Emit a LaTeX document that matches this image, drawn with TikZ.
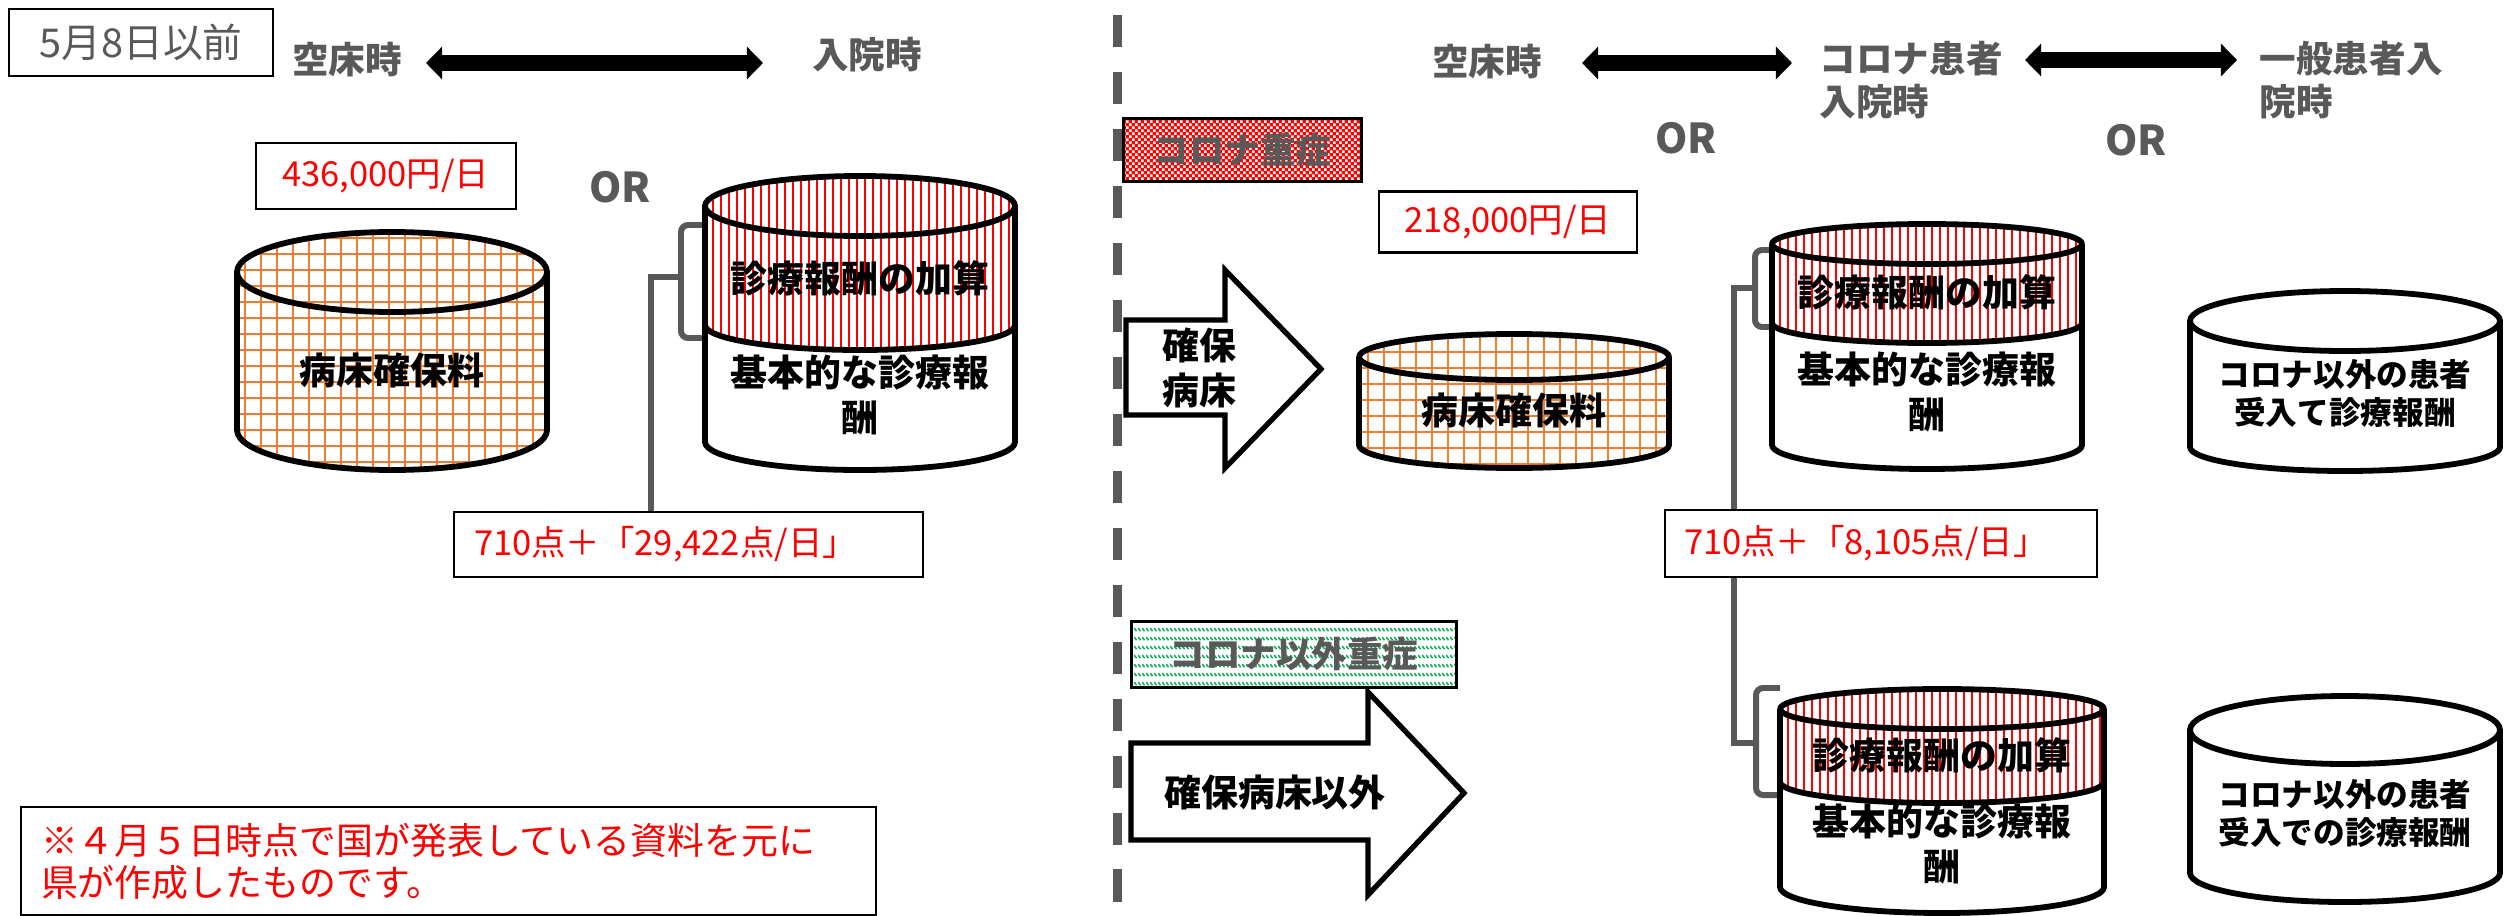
\documentclass[tikz,border=0pt]{standalone}
\usepackage{fontspec}
\setmainfont{Noto Sans CJK JP}
\usetikzlibrary{arrows.meta,patterns.meta}
\definecolor{tgray}{HTML}{595959}
\definecolor{gorange}{HTML}{ED7D31}
\definecolor{hgreen}{HTML}{00B050}

\tikzdeclarepattern{name=wcheck,type=uncolored,
  bounding box={(0pt,0pt) and (1.7pt,1.7pt)},tile size={(1.7pt,1.7pt)},
  code={\fill (0.05pt,0.05pt) rectangle (0.75pt,0.75pt); \fill (0.9pt,0.9pt) rectangle (1.6pt,1.6pt);}}
\tikzdeclarepattern{name=gdash,type=uncolored,
  bounding box={(0pt,0pt) and (1.14pt,2.56pt)},tile size={(1.14pt,2.56pt)},
  code={\draw[line width=0.5pt] (0.1pt,2.45pt) -- (0.9pt,1.5pt);}}

% silhouette clip + interior code + outline
\newcommand\cylone[7]{%
  \begin{scope}
    \clip ({#1-#2},#3) -- ({#1-#2},#4) arc[start angle=180,end angle=360,x radius={#2*0.01cm},y radius={#6*0.01cm}] -- ({#1+#2},#3) arc[start angle=0,end angle=180,x radius={#2*0.01cm},y radius={#5*0.01cm}] -- cycle;
    \fill[white] ({#1-#2-10},{#3-#5-10}) rectangle ({#1+#2+10},{#4+#6+10});
    #7
  \end{scope}
  \draw[cylline] ({#1-#2},#3) -- ({#1-#2},#4) arc[start angle=180,end angle=360,x radius={#2*0.01cm},y radius={#6*0.01cm}] -- ({#1+#2},#3);
  \draw[cylline] (#1,#3) ellipse[x radius={#2*0.01cm},y radius={#5*0.01cm}];
}
% two-tone: cx rx yt ydiv yb ryt rydiv ryb
\newcommand\cyltwo[8]{%
  \fill[white] ({#1-#2},#3) -- ({#1-#2},#5) arc[start angle=180,end angle=360,x radius={#2*0.01cm},y radius={#8*0.01cm}] -- ({#1+#2},#3) arc[start angle=0,end angle=180,x radius={#2*0.01cm},y radius={#6*0.01cm}] -- cycle;
  \begin{scope}
    \clip ({#1-#2},#3) -- ({#1-#2},#4) arc[start angle=180,end angle=360,x radius={#2*0.01cm},y radius={#7*0.01cm}] -- ({#1+#2},#3) arc[start angle=0,end angle=180,x radius={#2*0.01cm},y radius={#6*0.01cm}] -- cycle;
    \foreach \xx in {0,8,...,330} \draw[redline] ({#1-#2+\xx},{#3-#6-10}) -- ({#1-#2+\xx},{#4+#7+10});
  \end{scope}
  \draw[cylline] ({#1-#2},#3) -- ({#1-#2},#5) arc[start angle=180,end angle=360,x radius={#2*0.01cm},y radius={#8*0.01cm}] -- ({#1+#2},#3);
  \draw[cylline] (#1,#3) ellipse[x radius={#2*0.01cm},y radius={#6*0.01cm}];
  \draw[cylline] ({#1-#2},#4) arc[start angle=180,end angle=360,x radius={#2*0.01cm},y radius={#7*0.01cm}];
}

\tikzset{
  hdr/.style={text=tgray, font=\bfseries\fontsize{10.4pt}{12.2pt}\selectfont, inner sep=0pt},
  ortxt/.style={text=tgray, font=\bfseries\fontsize{11.7pt}{14pt}\selectfont, inner sep=0pt},
  blk/.style={text=black, font=\bfseries\fontsize{10.5pt}{12.8pt}\selectfont, inner sep=0pt, align=center},
  blksm/.style={text=black, font=\bfseries\fontsize{9pt}{10.8pt}\selectfont, inner sep=0pt, align=center},
  redbox/.style={draw=black, line width=0.6pt, text=red, font=\fontsize{9.8pt}{12pt}\selectfont},
  datebox/.style={draw=black, line width=0.6pt, text=tgray, font=\fontsize{11.3pt}{13pt}\selectfont},
  tagred/.style={draw=black, line width=0.8pt, preaction={fill=red}, pattern={wcheck}, pattern color=white, text=tgray, font=\bfseries\fontsize{10.1pt}{12pt}\selectfont},
  taggreen/.style={draw=black, line width=0.8pt, pattern={gdash}, pattern color=hgreen, text=tgray, font=\bfseries\fontsize{10.1pt}{12pt}\selectfont},
  notebox/.style={draw=black, line width=0.6pt, text=red, font=\fontsize{10.5pt}{12pt}\selectfont, align=left},
  cylline/.style={draw=black, line width=1.65pt, line join=round},
  gridline/.style={draw=gorange, line width=0.6pt},
  redline/.style={draw=red, line width=0.57pt},
  dbl/.style={{Triangle[length=4.6pt,width=9.1pt]}-{Triangle[length=4.6pt,width=9.1pt]}, line width=4.8pt, draw=black},
  sepline/.style={draw=tgray, line width=2.56pt, dash pattern=on 9.1pt off 7.1pt, dash phase=11.95pt},
  brk/.style={draw=tgray, line width=1.7pt, rounded corners=2pt},
  conn/.style={draw=tgray, line width=1.7pt},
  barrow/.style={draw=black, fill=white, line width=1.5pt, line join=miter}
}

\begin{document}
\begin{tikzpicture}[x=0.01cm,y=-0.01cm]
\useasboundingbox (0,0) rectangle (2509,915);

% separator
\coordinate (septop) at (1117,0);
\coordinate (sepbot) at (1117,915);
\draw[sepline] (septop) -- (sepbot);

% ---------- left part ----------
\node[datebox, minimum width=2.64cm, minimum height=0.67cm, anchor=north west] (date) at (8,8) {5月8日以前};
\node[hdr] (kuL) at (347,60) {空床時};
\node[hdr] (nyL) at (867,55) {入院時};
\coordinate (aL1) at (426,63);
\coordinate (aL2) at (763,63);
\draw[dbl] (aL1) -- (aL2);

\node[redbox, minimum width=2.59cm, minimum height=0.66cm] (pL) at (386,176) {436,000円/日};
\node[ortxt] (orL) at (620,187) {OR};

\cylone{392}{155}{272}{430}{40}{40}{\foreach \xx in {245,261,...,545} \draw[gridline] (\xx,220) -- (\xx,480); \foreach \yy in {238,254,...,478} \draw[gridline] (230,\yy) -- (560,\yy);}
\node[blk] (tA) at (392,370) {病床確保料};

\coordinate (nB) at (681,277);
\coordinate (jB) at (651,277);
\draw[brk] (706,225) -- (681,225) -- (681,338) -- (706,338);
\cyltwo{860}{155}{206}{325}{442}{30}{25}{28}
\node[blk] (tB1) at (860,278) {診療報酬の加算};
\node[blk] (tB2) at (860,395) {基本的な診療報\\酬};

\node[redbox, minimum width=4.69cm, minimum height=0.65cm, anchor=north west, text width=4.29cm, inner xsep=0.2cm, align=left] (ptL) at (453,511) {710点＋「29,422点/日」};
\draw[conn] (nB) -- (jB) -- (jB |- ptL.north);

\node[notebox, minimum width=8.54cm, minimum height=1.08cm, anchor=north west, text width=8.14cm, inner xsep=0.2cm] (note) at (20,806) {※４月５日時点で国が発表している資料を元に\\県が作成したものです。};

% ---------- right part ----------
\node[hdr] (kuR) at (1487,62) {空床時};
\node[hdr, align=left, anchor=west] (coR) at (1819,80) {コロナ患者\\入院時};
\node[hdr, align=left, anchor=west] (ipR) at (2259,80) {一般患者入\\院時};
\coordinate (aR1) at (1582,63);
\coordinate (aR2) at (1792,63);
\draw[dbl] (aR1) -- (aR2);
\coordinate (aR3) at (2025,60);
\coordinate (aR4) at (2237,60);
\draw[dbl] (aR3) -- (aR4);
\node[ortxt] (orR1) at (1686,138) {OR};
\node[ortxt] (orR2) at (2136,140) {OR};

\node[tagred, minimum width=2.38cm, minimum height=0.63cm, anchor=north west] (tagC) at (1122,117) {コロナ重症};
\node[redbox, minimum width=2.58cm, minimum height=0.61cm] (pR) at (1508,222) {218,000円/日};

\draw[barrow] (1126,320) -- (1225,320) -- (1225,270) -- (1321,369) -- (1225,468) -- (1225,415) -- (1126,415) -- cycle;
\node[blk] (tAr1) at (1199,368) {確保\\病床};

\cylone{1514}{155}{357}{445}{23}{23}{\foreach \xx in {1368,1384,...,1668} \draw[gridline] (\xx,320) -- (\xx,480); \foreach \yy in {336,352,...,470} \draw[gridline] (1350,\yy) -- (1680,\yy);}
\node[blk] (tC) at (1514,410) {病床確保料};

\coordinate (nD) at (1755,288);
\coordinate (jD) at (1734,288);
\draw[brk] (1774,250) -- (1755,250) -- (1755,327) -- (1774,327);
\cyltwo{1927}{155}{244}{323}{445}{20}{20}{24}
\node[blk] (tD1) at (1927,292) {診療報酬の加算};
\node[blk] (tD2) at (1927,392) {基本的な診療報\\酬};

\cylone{2345}{155}{321}{447}{30}{24}{}
\node[blksm] (tE) at (2345,394) {コロナ以外の患者\\受入て診療報酬};

\node[redbox, minimum width=4.32cm, minimum height=0.67cm, anchor=north west, text width=3.94cm, inner xsep=0.19cm, align=left] (ptR) at (1664,509) {710点＋「8,105点/日」};
\draw[conn] (nD) -- (jD) -- (jD |- ptR.north);

\node[taggreen, minimum width=3.25cm, minimum height=0.66cm, anchor=north west] (tagO) at (1130,620) {コロナ以外重症};

\draw[barrow] (1131,743) -- (1368,743) -- (1368,692) -- (1464,793) -- (1368,895) -- (1368,840) -- (1131,840) -- cycle;
\node[blk] (tAr2) at (1275,792) {確保病床以外};

\coordinate (nF) at (1756,743);
\coordinate (jF) at (1734,743);
\draw[brk] (1780,688) -- (1756,688) -- (1756,795) -- (1780,795);
\draw[conn] (jF |- ptR.south) -- (jF) -- (nF);
\cyltwo{1942}{162}{709}{782}{887}{20}{21}{26}
\node[blk] (tF1) at (1942,755) {診療報酬の加算};
\node[blk] (tF2) at (1942,844) {基本的な診療報\\酬};

\cylone{2345}{155}{730}{873}{34}{29}{}
\node[blksm] (tG) at (2345,814) {コロナ以外の患者\\受入での診療報酬};
\end{tikzpicture}
\end{document}
